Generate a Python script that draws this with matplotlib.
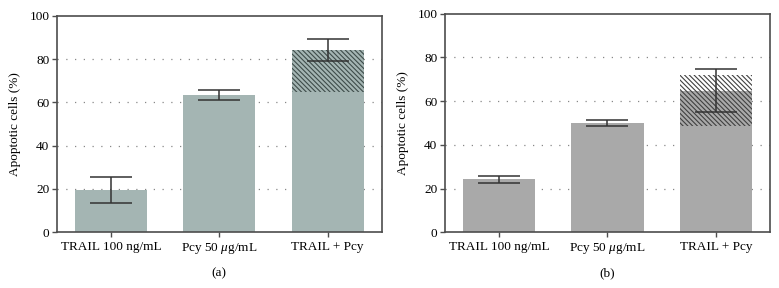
import matplotlib
matplotlib.use("Agg")
import matplotlib.pyplot as plt
import numpy as np

categories = ["TRAIL 100 ng/mL", "Pcy 50 $\\mu$g/mL", "TRAIL + Pcy"]
yticks = [0, 20, 40, 60, 80, 100]

a_means = [19.3, 63.4, 84.3]
a_err = [6.0, 2.1, 5.1]
a_hatch_bottom = 64.7
a_hatch_top = 84.3

b_means = [24.3, 49.9, 64.7]
b_err = [1.6, 1.4, 9.8]
b_hatch_bottom = 48.7
b_hatch_top = 71.9

plt.rcParams['font.family'] = ['Liberation Serif', 'DejaVu Serif']
plt.rcParams['mathtext.fontset'] = 'custom'
plt.rcParams['mathtext.it'] = 'Liberation Serif:italic'
plt.rcParams['mathtext.rm'] = 'Liberation Serif'
plt.rcParams['hatch.linewidth'] = 0.8

fig = plt.figure(figsize=(7.79, 2.88), dpi=100)
ax_a = fig.add_axes([0.0732, 0.1934, 0.4168, 0.7521])
ax_b = fig.add_axes([0.5712, 0.1934, 0.4172, 0.7590])

spine_col = '#4d4d4d'

def draw(ax, means, err, hb, ht, color, hatch_col, label):
    x = np.arange(len(categories))
    ax.bar(x, means, width=0.667, color=color, zorder=2)
    ax.bar([x[-1]], [ht - hb], bottom=[hb], width=0.667, facecolor='none',
           edgecolor=hatch_col, linewidth=0, hatch='\\' * 7, zorder=3)
    ax.errorbar(x, means, yerr=err, fmt='none', ecolor='#333333',
                elinewidth=1.1, capsize=15, capthick=1.1, zorder=4)
    ax.set_xlim(-0.5, 2.5)
    ax.set_ylim(0, 100)
    ax.set_yticks(yticks)
    ax.set_xticks(x)
    ax.set_xticklabels(categories, fontsize=9.5)
    ax.tick_params(axis='y', labelsize=9.5, length=3.5, width=1, color=spine_col, pad=2)
    ax.tick_params(axis='x', length=3.5, width=1, color=spine_col, pad=3)
    for yv in yticks[1:-1]:
        ax.axhline(yv, color='#888888', linewidth=0.9, linestyle=(0, (1, 6)), zorder=1)
    for s in ax.spines.values():
        s.set_color(spine_col)
        s.set_linewidth(1.2)
    ax.set_ylabel('Apoptotic cells (%)', fontsize=9.5, labelpad=6)
    h = ax.get_position().height * fig.get_figheight() * fig.dpi
    ax.text(0.5, -(273 - 232.3) / h, label, transform=ax.transAxes,
            ha='center', va='center', fontsize=9.5)

draw(ax_a, a_means, a_err, a_hatch_bottom, a_hatch_top, '#a4b5b3', '#3e4c4a', '(a)')
draw(ax_b, b_means, b_err, b_hatch_bottom, b_hatch_top, '#a9a9a9', '#404040', '(b)')

fig.savefig('out.png', dpi=100)
